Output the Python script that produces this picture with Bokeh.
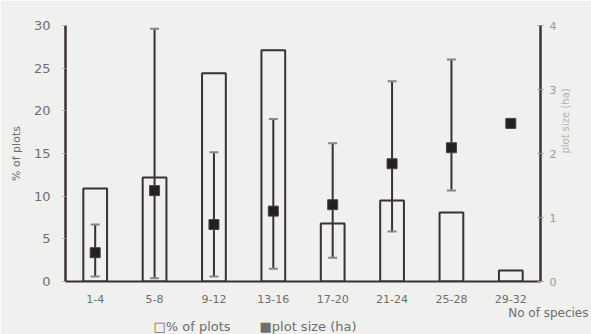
import math
from bokeh.plotting import figure
from bokeh.models import (Range1d, LinearAxis, FixedTicker, ColumnDataSource,
                          Whisker, TeeHead, Title, FactorRange)
from bokeh.embed import file_html
from bokeh.resources import INLINE

categories = ["1-4", "5-8", "9-12", "13-16", "17-20", "21-24", "25-28", "29-32"]
pct_plots = [10.9, 12.2, 24.4, 27.1, 6.8, 9.5, 8.1, 1.3]
plot_size = [0.45, 1.42, 0.89, 1.10, 1.20, 1.84, 2.09, 2.47]
size_lower = [0.08, 0.05, 0.08, 0.20, 0.37, 0.78, 1.42]
size_upper = [0.89, 3.95, 2.02, 2.54, 2.16, 3.13, 3.47]
left_ticks = [0, 5, 10, 15, 20, 25, 30]
right_ticks = [0, 1, 2, 3, 4]

FONT = "DejaVu Sans"
DARK = "#3b3132"
GREY = "#6e6e6e"
BG = "#f0f0ee"

p = figure(width=591, height=334, output_backend="svg", toolbar_location=None,
           x_range=FactorRange(factors=categories, range_padding=0),
           y_range=Range1d(0, 30),
           min_border_left=65, min_border_right=51, min_border_top=25,
           min_border_bottom=53)
p.extra_y_ranges = {"ha": Range1d(0, 4)}
p.background_fill_color = BG
p.border_fill_color = BG
p.outline_line_color = None
p.grid.visible = False

bars = ColumnDataSource(dict(x=categories, top=pct_plots))
p.vbar(x="x", top="top", width=0.4, source=bars, fill_color=None,
       line_color=DARK, line_width=2)

err = ColumnDataSource(dict(x=categories[:len(size_lower)], lower=size_lower, upper=size_upper))
w = Whisker(base="x", lower="lower", upper="upper", source=err, y_range_name="ha",
            line_color=DARK, line_width=2, level="annotation",
            upper_head=TeeHead(size=9, line_color="#8a8585", line_width=2),
            lower_head=TeeHead(size=9, line_color="#8a8585", line_width=2))
p.add_layout(w)

pts = ColumnDataSource(dict(x=categories, y=plot_size))
sq = p.scatter(x="x", y="y", source=pts, y_range_name="ha", marker="square", size=10,
               fill_color="#252020", line_color="#4a4444", line_width=1)
sq.level = "overlay"

# left axis
ya = p.yaxis[0]
ya.ticker = FixedTicker(ticks=left_ticks)
ya.axis_line_color = DARK
ya.axis_line_width = 2.5
ya.major_tick_line_color = "#aaaaaa"
ya.major_tick_out = 3
ya.major_tick_in = 0
ya.minor_tick_line_color = None
ya.major_label_text_font = FONT
ya.major_label_text_font_size = "13px"
ya.major_label_text_color = GREY
ya.major_label_standoff = 12
ya.axis_label = "% of plots"
ya.axis_label_text_font = FONT
ya.axis_label_text_font_size = "11px"
ya.axis_label_text_font_style = "normal"
ya.axis_label_text_color = GREY
ya.axis_label_standoff = 8

# right axis
ra = LinearAxis(y_range_name="ha", ticker=FixedTicker(ticks=right_ticks))
ra.axis_line_color = DARK
ra.axis_line_width = 2.5
ra.major_tick_line_color = "#999999"
ra.major_tick_out = 3
ra.major_tick_in = 3
ra.minor_tick_line_color = None
ra.major_label_text_font = FONT
ra.major_label_text_font_size = "11px"
ra.major_label_text_color = "#9a9a9a"
ra.major_label_standoff = 6
ra.axis_label = "plot size (ha)"
ra.axis_label_text_font = FONT
ra.axis_label_text_font_size = "10px"
ra.axis_label_text_font_style = "normal"
ra.axis_label_text_color = "#b0b0b0"
ra.axis_label_standoff = 6
try:
    ra.axis_label_orientation = math.pi / 2
except Exception:
    pass
p.add_layout(ra, "right")

# x axis
xa = p.xaxis[0]
xa.axis_line_color = DARK
xa.axis_line_width = 2
xa.major_tick_line_color = None
xa.minor_tick_line_color = None
xa.major_label_text_font = FONT
xa.major_label_text_font_size = "11px"
xa.major_label_text_color = GREY
xa.major_label_standoff = 7

NB = "\u00a0"
t1 = Title(text="No of species", align="right", offset=-48, standoff=0,
           text_font=FONT, text_font_size="12px", text_font_style="normal",
           text_color=GREY, text_line_height=0.8)
p.add_layout(t1, "below")
t2 = Title(text="\u25a1% of plots" + NB * 7 + "\u25a0plot size (ha)", align="left",
           offset=88, standoff=0, text_font=FONT, text_font_size="13px",
           text_font_style="normal", text_color=GREY, text_line_height=0.8)
p.add_layout(t2, "below")
for t, s in ((t1, -3), (t2, -3)):
    try:
        t.standoff = s
    except Exception:
        pass

open("out.html", "w").write(file_html(p, INLINE))
